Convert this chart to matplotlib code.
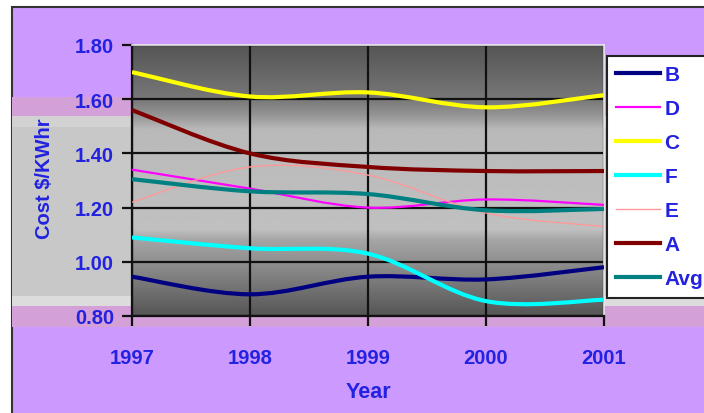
import numpy as np
import matplotlib.pyplot as plt
from matplotlib.path import Path
from matplotlib.patches import PathPatch, Rectangle
from matplotlib.lines import Line2D

plt.rcParams['font.family'] = ['Liberation Sans', 'DejaVu Sans']
plt.rcParams['font.weight'] = 'bold'

years = [1997, 1998, 1999, 2000, 2001]
cost_b = [0.945, 0.88, 0.945, 0.935, 0.98]
cost_d = [1.34, 1.27, 1.20, 1.23, 1.21]
cost_c = [1.70, 1.61, 1.625, 1.57, 1.615]
cost_f = [1.09, 1.05, 1.03, 0.855, 0.86]
cost_e = [1.22, 1.35, 1.32, 1.18, 1.13]
cost_a = [1.56, 1.40, 1.35, 1.335, 1.335]
cost_avg = [1.305, 1.26, 1.25, 1.19, 1.195]

series = [
    ('B', cost_b, '#000080', 3.0),
    ('D', cost_d, '#FF00FF', 1.6),
    ('C', cost_c, '#FFFF00', 3.0),
    ('F', cost_f, '#00FFFF', 3.0),
    ('E', cost_e, '#FF9999', 1.0),
    ('A', cost_a, '#800000', 3.0),
    ('Avg', cost_avg, '#008080', 3.0),
]

txt = '#2222E0'
purple = '#CC99FF'
pink = '#D4A0D8'


def smooth_path(xs, ys):
    # excel-style smoothed line: cubic bezier through each point
    p = np.column_stack([xs, ys]).astype(float)
    ext = np.vstack([p[0], p, p[-1]])
    verts = [p[0]]
    codes = [Path.MOVETO]
    for i in range(len(p) - 1):
        c1 = p[i] + (ext[i + 2] - ext[i]) / 6.0
        c2 = p[i + 1] - (ext[i + 3] - ext[i + 1]) / 6.0
        verts += [c1, c2, p[i + 1]]
        codes += [Path.CURVE4] * 3
    return Path(verts, codes)


fig = plt.figure(figsize=(7.04, 4.14), dpi=100)
fig.patch.set_facecolor('white')

H = 414.0


def band(top, bottom, color, z):
    fig.add_artist(Rectangle((12 / 704, 1 - bottom / H), 1, (bottom - top) / H,
                             transform=fig.transFigure, facecolor=color,
                             edgecolor='none', zorder=z))


# purple chart area with its frame
fig.add_artist(Rectangle((12 / 704, -0.05), 1, 1.05 - 8 / H,
                         transform=fig.transFigure, facecolor=purple,
                         edgecolor='#333333', linewidth=1.5, zorder=-5))
band(98, 117, pink, -4)
band(117, 297, '#C8C8C8', -4)
band(117, 128, '#D2D2D2', -4)
band(297, 307, '#DCDCDC', -4)
band(307, 328, pink, -4)

ax = fig.add_axes([132 / 704, 1 - 317 / H, 472 / 704, 271 / H])

# plot area: grey gradient, dark at top and bottom
pos = [0.0, 0.2, 0.26, 0.31, 0.68, 0.72, 0.85, 1.0]
lev = [85, 120, 150, 185, 192, 165, 130, 85]
frac = np.linspace(0, 1, 300)
shade = np.interp(frac, pos, lev) / 255.0
grad = np.repeat(shade[:, None], 2, axis=1)
ax.imshow(grad, cmap='gray', vmin=0, vmax=1, aspect='auto',
          extent=[0, 1, 0, 1], transform=ax.transAxes, origin='upper', zorder=0)

ax.set_xlim(1997, 2001)
ax.set_ylim(0.8, 1.8)
ax.set_xticks(years)
ax.set_yticks([0.8, 1.0, 1.2, 1.4, 1.6, 1.8])
ax.set_yticklabels(['%.2f' % v for v in ax.get_yticks()])
ax.set_axisbelow(True)
ax.grid(True, color='#111111', linewidth=1.6)

handles = []
for name, vals, color, lw in series:
    ax.add_patch(PathPatch(smooth_path(years, vals), fill=False,
                           edgecolor=color, linewidth=lw, zorder=3,
                           capstyle='butt', joinstyle='round'))
    handles.append(Line2D([], [], color=color, linewidth=lw))

for side in ['left', 'bottom']:
    ax.spines[side].set_color('#111111')
    ax.spines[side].set_linewidth(1.6)
for side in ['top', 'right']:
    ax.spines[side].set_color('#E8E8E8')
    ax.spines[side].set_linewidth(1.2)

ax.tick_params(axis='both', direction='out', length=7, width=1.6,
               color='#111111', labelsize=14.5, labelcolor=txt)
ax.tick_params(axis='x', pad=16)
ax.tick_params(axis='y', pad=6)

fig.text(368 / 704, 1 - 393 / H, 'Year', ha='center', va='center',
         fontsize=15.5, color=txt, fontweight='bold')
fig.text(45 / 704, 1 - 179 / H, 'Cost $/KWhr', ha='center', va='center',
         rotation=90, fontsize=14.5, color=txt, fontweight='bold')

leg = ax.legend(handles, [s[0] for s in series],
                loc='upper left', mode='expand',
                bbox_to_anchor=(607 / 704, 1 - 292 / H, 0.2, 235 / H),
                bbox_transform=fig.transFigure, borderaxespad=0,
                fontsize=15, handlelength=2.1, handletextpad=0.2,
                labelspacing=0.72, borderpad=0.45, fancybox=False,
                framealpha=1, facecolor='white', edgecolor='#222222')
leg.get_frame().set_linewidth(1.5)
for t in leg.get_texts():
    t.set_color(txt)
    t.set_fontweight('bold')

fig.savefig('out.png', dpi=100)
